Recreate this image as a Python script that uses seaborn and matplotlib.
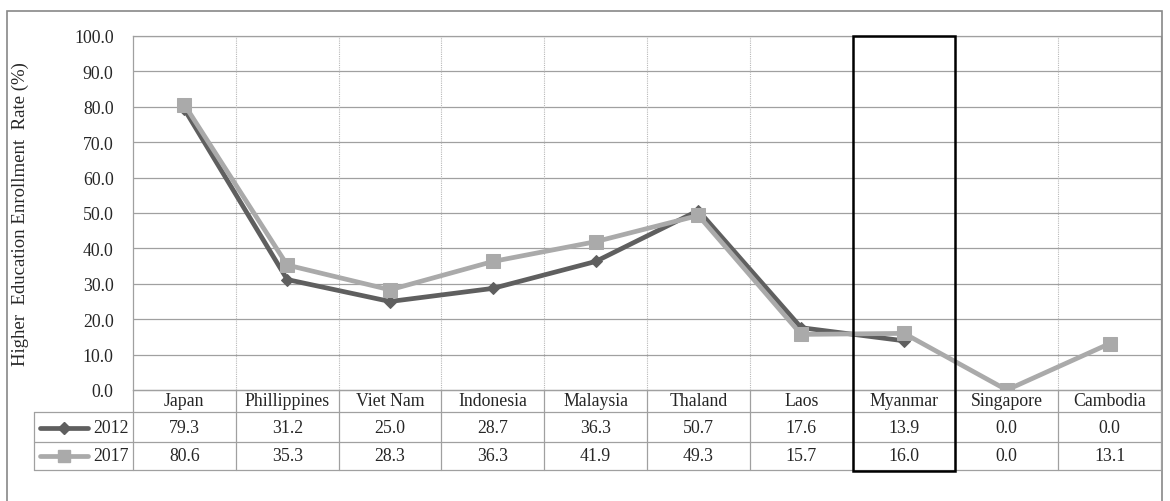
import numpy as np
import pandas as pd
import matplotlib
matplotlib.use("Agg")
import matplotlib.pyplot as plt
import matplotlib.transforms as mtransforms
from matplotlib.lines import Line2D
from matplotlib.patches import Rectangle
import seaborn as sns

countries = ["Japan", "Phillippines", "Viet Nam", "Indonesia", "Malaysia",
             "Thaland", "Laos", "Myanmar", "Singapore", "Cambodia"]
rate_2012 = [79.3, 31.2, 25.0, 28.7, 36.3, 50.7, 17.6, 13.9, 0.0, 0.0]
rate_2017 = [80.6, 35.3, 28.3, 36.3, 41.9, 49.3, 15.7, 16.0, 0.0, 13.1]
# 2012 line is only drawn up to Myanmar in the original
n_drawn_2012 = 8
y_ticks = np.arange(0, 101, 10)

W, H = 1170, 502
c2012 = "#5f5f5f"
c2017 = "#aaaaaa"
grid_c = "#a0a0a0"
fs = 12.8

sns.set_style("white")
plt.rcParams["font.family"] = ["Liberation Serif", "DejaVu Serif"]
plt.rcParams["font.size"] = fs


def fy(py):
    return 1 - py / H


def fx(px):
    return px / W


fig = plt.figure(figsize=(W / 100, H / 100), dpi=100)
ax_left, ax_right, ax_top, ax_bot = 133, 1161, 37, 391
ax = fig.add_axes([fx(ax_left), fy(ax_bot), fx(ax_right - ax_left), (ax_bot - ax_top) / H])

df = pd.DataFrame({"x": np.arange(len(countries)), "c": countries,
                   "y2012": rate_2012, "y2017": rate_2017})

sns.lineplot(data=df.iloc[:n_drawn_2012], x="x", y="y2012", ax=ax, color=c2012,
             lw=3.4, marker="D", markersize=6.5, markeredgecolor=c2012, zorder=3)
sns.lineplot(data=df, x="x", y="y2017", ax=ax, color=c2017,
             lw=3.4, marker="s", markersize=10, markeredgecolor=c2017, zorder=4)

ax.set_xlim(-0.5, len(countries) - 0.5)
ax.set_ylim(0, 100)
ax.set_yticks(y_ticks)
ax.set_yticklabels([f"{v:.1f}" for v in y_ticks])
ax.tick_params(axis="y", length=0, pad=14, labelsize=fs)
ax.set_xticks([])
ax.set_xlabel("")
ax.set_ylabel("")
for v in y_ticks[1:]:
    ax.axhline(v, color=grid_c, lw=0.9, zorder=1)
for i in range(len(countries) - 1):
    ax.axvline(i + 0.5, color="#b8b8b8", lw=0.8, ls=(0, (1, 1)), zorder=1)
for s in ax.spines.values():
    s.set_color(grid_c)
    s.set_linewidth(0.9)

fig.text(fx(20), fy(214), "Higher  Education Enrollment  Rate (%)", rotation=90,
         ha="center", va="center", fontsize=13.5)

# data table below the axis
trans = mtransforms.blended_transform_factory(ax.transData, fig.transFigure)
row_tops = [391, 413, 443, 471]
tbl_left = 34
tline = dict(color=grid_c, lw=0.9)
for k, py in enumerate(row_tops):
    x0 = fx(ax_left) if k == 0 else fx(tbl_left)
    fig.add_artist(Line2D([x0, fx(ax_right)], [fy(py), fy(py)], **tline))
fig.add_artist(Line2D([fx(tbl_left), fx(tbl_left)], [fy(413), fy(471)], **tline))
for i in range(len(countries) + 1):
    xb = i - 0.5
    fig.add_artist(Line2D([xb, xb], [fy(391), fy(471)], transform=trans, **tline))

for i, name in enumerate(countries):
    fig.text(i, fy(402), name, transform=trans, ha="center", va="center")
    fig.text(i, fy(429), f"{rate_2012[i]:.1f}", transform=trans, ha="center", va="center")
    fig.text(i, fy(457), f"{rate_2017[i]:.1f}", transform=trans, ha="center", va="center")

for py, col, mk, ms, lab in [(429, c2012, "D", 6, "2012"), (457, c2017, "s", 8, "2017")]:
    fig.add_artist(Line2D([fx(40), fx(88)], [fy(py), fy(py)], color=col, lw=3.4))
    fig.add_artist(Line2D([fx(64)], [fy(py)], color=col, marker=mk, markersize=ms,
                          markeredgecolor=col, ls="none"))
    fig.text(fx(129), fy(py), lab, ha="right", va="center")

# highlight box around Myanmar
mi = countries.index("Myanmar")
fig.add_artist(Rectangle((mi - 0.5, fy(472)), 1, fy(37) - fy(472), transform=trans,
                         fill=False, ec="black", lw=1.8, zorder=10))

# outer chart border
fig.add_artist(Rectangle((fx(7), fy(510)), fx(1162 - 7), fy(12) - fy(510),
                         fill=False, ec="#888888", lw=1.2))

fig.savefig("out.png", dpi=100)
